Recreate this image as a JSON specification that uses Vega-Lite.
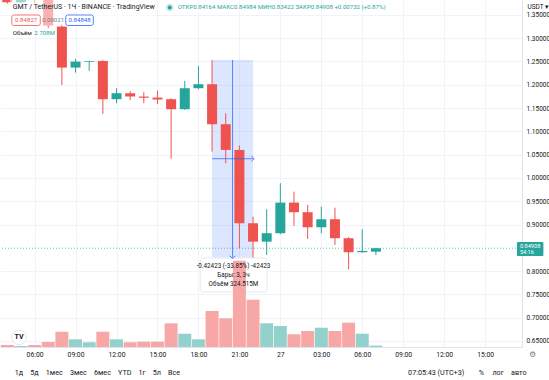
{
  "$schema": "https://vega.github.io/schema/vega-lite/v6.json",
  "width": 522,
  "height": 347,
  "autosize": "none",
  "padding": {"left": 0, "top": 0, "right": 27, "bottom": 33},
  "background": "#ffffff",
  "config": {"view": {"stroke": null}, "font": "Roboto"},
  "datasets": {
    "bars": [
      {"t": "2022-05-26T04:00:00Z", "o": 1.430, "h": 1.450, "l": 1.374, "c": 1.377, "v": 4.0},
      {"t": "2022-05-26T05:00:00Z", "o": 1.377, "h": 1.420, "l": 1.375, "c": 1.400, "v": 2.0},
      {"t": "2022-05-26T06:00:00Z", "o": 1.400, "h": 1.410, "l": 1.375, "c": 1.390, "v": 4.0},
      {"t": "2022-05-26T07:00:00Z", "o": 1.390, "h": 1.400, "l": 1.322, "c": 1.327, "v": 10.0},
      {"t": "2022-05-26T08:00:00Z", "o": 1.3249, "h": 1.3300, "l": 1.1997, "c": 1.2369, "v": 30.6},
      {"t": "2022-05-26T09:00:00Z", "o": 1.2369, "h": 1.2555, "l": 1.2261, "c": 1.2498, "v": 15.4},
      {"t": "2022-05-26T10:00:00Z", "o": 1.2495, "h": 1.2515, "l": 1.2298, "c": 1.2510, "v": 9.4},
      {"t": "2022-05-26T11:00:00Z", "o": 1.2512, "h": 1.2525, "l": 1.1374, "c": 1.1690, "v": 30.6},
      {"t": "2022-05-26T12:00:00Z", "o": 1.1690, "h": 1.1926, "l": 1.1604, "c": 1.1819, "v": 15.4},
      {"t": "2022-05-26T13:00:00Z", "o": 1.1819, "h": 1.1862, "l": 1.1669, "c": 1.1747, "v": 9.4},
      {"t": "2022-05-26T14:00:00Z", "o": 1.1747, "h": 1.1840, "l": 1.1604, "c": 1.1722, "v": 10.6},
      {"t": "2022-05-26T15:00:00Z", "o": 1.1725, "h": 1.1875, "l": 1.1583, "c": 1.1683, "v": 10.6},
      {"t": "2022-05-26T16:00:00Z", "o": 1.1690, "h": 1.1710, "l": 1.0415, "c": 1.1475, "v": 47.4},
      {"t": "2022-05-26T17:00:00Z", "o": 1.1475, "h": 1.2083, "l": 1.1460, "c": 1.1926, "v": 26.6},
      {"t": "2022-05-26T18:00:00Z", "o": 1.1926, "h": 1.2405, "l": 1.1900, "c": 1.2012, "v": 15.4},
      {"t": "2022-05-26T19:00:00Z", "o": 1.2012, "h": 1.2533, "l": 1.0565, "c": 1.1153, "v": 72.0},
      {"t": "2022-05-26T20:00:00Z", "o": 1.1153, "h": 1.1390, "l": 1.0316, "c": 1.0601, "v": 57.4},
      {"t": "2022-05-26T21:00:00Z", "o": 1.0601, "h": 1.0694, "l": 0.8490, "c": 0.9027, "v": 172.5},
      {"t": "2022-05-26T22:00:00Z", "o": 0.9027, "h": 0.9169, "l": 0.8291, "c": 0.8632, "v": 94.6},
      {"t": "2022-05-26T23:00:00Z", "o": 0.8632, "h": 0.9328, "l": 0.8347, "c": 0.8813, "v": 47.4},
      {"t": "2022-05-27T00:00:00Z", "o": 0.8813, "h": 0.9886, "l": 0.8790, "c": 0.9470, "v": 42.0},
      {"t": "2022-05-27T01:00:00Z", "o": 0.9470, "h": 0.9706, "l": 0.8970, "c": 0.9264, "v": 25.4},
      {"t": "2022-05-27T02:00:00Z", "o": 0.9264, "h": 0.9420, "l": 0.8690, "c": 0.8941, "v": 32.0},
      {"t": "2022-05-27T03:00:00Z", "o": 0.8941, "h": 0.9384, "l": 0.8813, "c": 0.9113, "v": 38.6},
      {"t": "2022-05-27T04:00:00Z", "o": 0.9113, "h": 0.9362, "l": 0.8561, "c": 0.8705, "v": 32.0},
      {"t": "2022-05-27T05:00:00Z", "o": 0.8705, "h": 0.8730, "l": 0.8040, "c": 0.8405, "v": 48.6},
      {"t": "2022-05-27T06:00:00Z", "o": 0.8405, "h": 0.8898, "l": 0.8395, "c": 0.8433, "v": 26.6},
      {"t": "2022-05-27T07:00:00Z", "o": 0.84164, "h": 0.84984, "l": 0.83422, "c": 0.84908, "v": 2.708}
    ]
  },
  "resolve": {"scale": {"y": "independent"}},
  "layer": [
    {
      "data": {"values": [{}]},
      "mark": {"type": "rule", "stroke": "#26a69a", "strokeDash": [1, 2], "strokeWidth": 1, "opacity": 0.7},
      "encoding": {
        "y": {"datum": 0.84908, "type": "quantitative", "scale": {"domain": [0.637, 1.382], "nice": false, "zero": false}, "axis": null}
      }
    },
    {
      "data": {"values": [{}]},
      "mark": {"type": "rect", "fill": "#2962ff", "opacity": 0.16},
      "encoding": {
        "x": {"datum": 1653591600000, "type": "temporal"},
        "x2": {"datum": 1653602400000},
        "y": {"datum": 1.2533, "type": "quantitative", "scale": {"domain": [0.637, 1.382], "nice": false, "zero": false}, "axis": null},
        "y2": {"datum": 0.8291}
      }
    },
    {
      "data": {"values": [{}]},
      "mark": {"type": "rect", "fill": "#ffffff", "stroke": "#e0e3eb", "strokeWidth": 0.8, "cornerRadius": 3},
      "encoding": {
        "x": {"datum": 1653588480000, "type": "temporal"},
        "x2": {"datum": 1653606060000},
        "y": {"datum": 0.8281, "type": "quantitative", "scale": {"domain": [0.637, 1.382], "nice": false, "zero": false}, "axis": null},
        "y2": {"datum": 0.7551}
      }
    },
    {
      "data": {"name": "bars"},
      "mark": {"type": "bar", "size": 13},
      "encoding": {
        "x": {
          "field": "t", "type": "temporal",
          "scale": {"type": "utc", "nice": false, "domain": [1653537000000, 1653672000000]},
          "axis": {
            "orient": "bottom",
            "values": [1653544800000, 1653555600000, 1653566400000, 1653577200000, 1653588000000, 1653598800000, 1653609600000, 1653620400000, 1653631200000, 1653642000000, 1653652800000, 1653663600000],
            "labelExpr": "utchours(datum.value) == 0 ? utcFormat(datum.value, '%d') : utcFormat(datum.value, '%H:%M')",
            "grid": true, "gridColor": "#f0f3fa", "ticks": false,
            "domain": true, "domainColor": "#e0e3eb",
            "labelFontSize": 6.8, "labelColor": "#131722", "labelPadding": 4,
            "labelOverlap": false, "labelFlush": false, "title": null
          }
        },
        "y": {"field": "v", "type": "quantitative", "scale": {"domain": [0, 694], "nice": false}, "axis": null},
        "color": {"condition": {"test": "datum.c >= datum.o", "value": "#93d2cc"}, "value": "#f7a8a6"}
      }
    },
    {
      "data": {"name": "bars"},
      "mark": {"type": "rule", "strokeWidth": 1, "clip": true},
      "encoding": {
        "x": {"field": "t", "type": "temporal"},
        "y": {"field": "l", "type": "quantitative", "scale": {"domain": [0.637, 1.382], "nice": false, "zero": false},
          "axis": {
            "orient": "right",
            "values": [0.65, 0.7, 0.75, 0.8, 0.9, 0.95, 1.0, 1.05, 1.1, 1.15, 1.2, 1.25, 1.3, 1.35],
            "format": ".5f", "grid": true, "gridColor": "#f0f3fa", "ticks": false,
            "domain": true, "domainColor": "#e0e3eb", "labelFontSize": 6.5,
            "labelColor": "#131722", "labelPadding": 4, "labelOverlap": false,
            "title": "USDT ▾", "titleAngle": 0, "titleX": 5, "titleY": 6,
            "titleAlign": "left", "titleBaseline": "middle", "titleFontSize": 6.5,
            "titleFontWeight": "normal", "titleColor": "#131722"
          }},
        "y2": {"field": "h"},
        "color": {"condition": {"test": "datum.c >= datum.o", "value": "#26a69a"}, "value": "#ef5350"}
      }
    },
    {
      "data": {"name": "bars"},
      "mark": {"type": "bar", "size": 10, "clip": true},
      "encoding": {
        "x": {"field": "t", "type": "temporal"},
        "y": {"field": "o", "type": "quantitative", "scale": {"domain": [0.637, 1.382], "nice": false, "zero": false}, "axis": null},
        "y2": {"field": "c"},
        "color": {"condition": {"test": "datum.c >= datum.o", "value": "#26a69a"}, "value": "#ef5350"}
      }
    },
    {
      "data": {"values": [{}]},
      "mark": {"type": "rect", "fill": "#ffffff", "opacity": 0.55},
      "encoding": {
        "x": {"datum": 1653538320000, "type": "temporal"},
        "x2": {"datum": 1653575760000},
        "y": {"datum": 1.382, "type": "quantitative", "scale": {"domain": [0.637, 1.382], "nice": false, "zero": false}, "axis": null},
        "y2": {"datum": 1.3262}
      }
    },
    {
      "data": {"values": [{}]},
      "mark": {"type": "rule", "stroke": "#2962ff", "strokeWidth": 1, "opacity": 0.75},
      "encoding": {
        "x": {"datum": 1653597000000, "type": "temporal"},
        "y": {"datum": 1.2533, "type": "quantitative", "scale": {"domain": [0.637, 1.382], "nice": false, "zero": false}, "axis": null},
        "y2": {"datum": 0.8291}
      }
    },
    {
      "data": {"values": [{}]},
      "mark": {"type": "rule", "stroke": "#2962ff", "strokeWidth": 1, "opacity": 0.75},
      "encoding": {
        "x": {"datum": 1653591600000, "type": "temporal"},
        "x2": {"datum": 1653602400000},
        "y": {"datum": 1.0412, "type": "quantitative", "scale": {"domain": [0.637, 1.382], "nice": false, "zero": false}, "axis": null}
      }
    },
    {
      "data": {"values": [{}]},
      "mark": {"type": "point", "shape": "M-1,-0.6L0,0.4L1,-0.6", "filled": false, "stroke": "#2962ff", "strokeWidth": 1, "size": 30, "opacity": 0.8},
      "encoding": {
        "x": {"datum": 1653597000000, "type": "temporal"},
        "y": {"datum": 0.8291, "type": "quantitative", "scale": {"domain": [0.637, 1.382], "nice": false, "zero": false}, "axis": null}
      }
    },
    {
      "data": {"values": [{}]},
      "mark": {"type": "point", "shape": "M-0.6,-1L0.4,0L-0.6,1", "filled": false, "stroke": "#2962ff", "strokeWidth": 1, "size": 30, "opacity": 0.8},
      "encoding": {
        "x": {"datum": 1653602400000, "type": "temporal"},
        "y": {"datum": 1.0412, "type": "quantitative", "scale": {"domain": [0.637, 1.382], "nice": false, "zero": false}, "axis": null}
      }
    },
    {
      "data": {"values": [{}]},
      "mark": {"type": "text", "text": "-0.42423 (-33.85%) -42423", "fontSize": 6.3, "color": "#131722", "align": "center", "baseline": "middle"},
      "encoding": {
        "x": {"datum": 1653597240000, "type": "temporal"},
        "y": {"datum": 0.8109, "type": "quantitative", "scale": {"domain": [0.637, 1.382], "nice": false, "zero": false}, "axis": null}
      }
    },
    {
      "data": {"values": [{}]},
      "mark": {"type": "text", "text": "Бары: 3, 3ч", "fontSize": 6.3, "color": "#131722", "align": "center", "baseline": "middle"},
      "encoding": {
        "x": {"datum": 1653597240000, "type": "temporal"},
        "y": {"datum": 0.7916, "type": "quantitative", "scale": {"domain": [0.637, 1.382], "nice": false, "zero": false}, "axis": null}
      }
    },
    {
      "data": {"values": [{}]},
      "mark": {"type": "text", "text": "Объём 324.515M", "fontSize": 6.3, "color": "#131722", "align": "center", "baseline": "middle"},
      "encoding": {
        "x": {"datum": 1653597240000, "type": "temporal"},
        "y": {"datum": 0.7722, "type": "quantitative", "scale": {"domain": [0.637, 1.382], "nice": false, "zero": false}, "axis": null}
      }
    },
    {
      "data": {"values": [{}]},
      "mark": {"type": "text", "text": "GMT / TetherUS · 1Ч · BINANCE · TradingView", "fontSize": 7, "color": "#131722", "align": "left", "baseline": "middle"},
      "encoding": {
        "x": {"datum": 1653539040000, "type": "temporal"},
        "y": {"datum": 1.3659, "type": "quantitative", "scale": {"domain": [0.637, 1.382], "nice": false, "zero": false}, "axis": null}
      }
    },
    {
      "data": {"values": [{}]},
      "mark": {"type": "point", "shape": "circle", "filled": true, "color": "#26a69a", "size": 55, "opacity": 0.25},
      "encoding": {
        "x": {"datum": 1653580440000, "type": "temporal"},
        "y": {"datum": 1.3659, "type": "quantitative", "scale": {"domain": [0.637, 1.382], "nice": false, "zero": false}, "axis": null}
      }
    },
    {
      "data": {"values": [{}]},
      "mark": {"type": "point", "shape": "circle", "filled": true, "color": "#26a69a", "size": 16, "opacity": 1},
      "encoding": {
        "x": {"datum": 1653580440000, "type": "temporal"},
        "y": {"datum": 1.3659, "type": "quantitative", "scale": {"domain": [0.637, 1.382], "nice": false, "zero": false}, "axis": null}
      }
    },
    {
      "data": {"values": [{}]},
      "mark": {"type": "text", "text": "ОТКР0.84164  МАКС0.84984  МИН0.83422  ЗАКР0.84908  +0.00732 (+0.87%)", "fontSize": 6.1, "color": "#26a69a", "align": "left", "baseline": "middle"},
      "encoding": {
        "x": {"datum": 1653582540000, "type": "temporal"},
        "y": {"datum": 1.3659, "type": "quantitative", "scale": {"domain": [0.637, 1.382], "nice": false, "zero": false}, "axis": null}
      }
    },
    {
      "data": {"values": [{}]},
      "mark": {"type": "rect", "fill": "#ffffff", "stroke": "#ef5350", "strokeWidth": 0.8, "cornerRadius": 2},
      "encoding": {
        "x": {"datum": 1653538800000, "type": "temporal"},
        "x2": {"datum": 1653546300000},
        "y": {"datum": 1.3498, "type": "quantitative", "scale": {"domain": [0.637, 1.382], "nice": false, "zero": false}, "axis": null},
        "y2": {"datum": 1.3273}
      }
    },
    {
      "data": {"values": [{}]},
      "mark": {"type": "rect", "fill": "#ffffff", "stroke": "#2962ff", "strokeWidth": 0.8, "cornerRadius": 2},
      "encoding": {
        "x": {"datum": 1653553020000, "type": "temporal"},
        "x2": {"datum": 1653560280000},
        "y": {"datum": 1.3498, "type": "quantitative", "scale": {"domain": [0.637, 1.382], "nice": false, "zero": false}, "axis": null},
        "y2": {"datum": 1.3273}
      }
    },
    {
      "data": {"values": [{}]},
      "mark": {"type": "text", "text": "0.84827", "fontSize": 6.1, "color": "#ef5350", "align": "center", "baseline": "middle"},
      "encoding": {
        "x": {"datum": 1653542580000, "type": "temporal"},
        "y": {"datum": 1.3391, "type": "quantitative", "scale": {"domain": [0.637, 1.382], "nice": false, "zero": false}, "axis": null}
      }
    },
    {
      "data": {"values": [{}]},
      "mark": {"type": "text", "text": "0.00021", "fontSize": 6.1, "color": "#787b86", "align": "center", "baseline": "middle"},
      "encoding": {
        "x": {"datum": 1653549660000, "type": "temporal"},
        "y": {"datum": 1.3391, "type": "quantitative", "scale": {"domain": [0.637, 1.382], "nice": false, "zero": false}, "axis": null}
      }
    },
    {
      "data": {"values": [{}]},
      "mark": {"type": "text", "text": "0.84848", "fontSize": 6.1, "color": "#2962ff", "align": "center", "baseline": "middle"},
      "encoding": {
        "x": {"datum": 1653556680000, "type": "temporal"},
        "y": {"datum": 1.3391, "type": "quantitative", "scale": {"domain": [0.637, 1.382], "nice": false, "zero": false}, "axis": null}
      }
    },
    {
      "data": {"values": [{}]},
      "mark": {"type": "text", "text": "Объём", "fontSize": 6.1, "color": "#131722", "align": "left", "baseline": "middle"},
      "encoding": {
        "x": {"datum": 1653539040000, "type": "temporal"},
        "y": {"datum": 1.3111, "type": "quantitative", "scale": {"domain": [0.637, 1.382], "nice": false, "zero": false}, "axis": null}
      }
    },
    {
      "data": {"values": [{}]},
      "mark": {"type": "text", "text": "2.708M", "fontSize": 6.1, "color": "#26a69a", "align": "left", "baseline": "middle"},
      "encoding": {
        "x": {"datum": 1653544740000, "type": "temporal"},
        "y": {"datum": 1.3111, "type": "quantitative", "scale": {"domain": [0.637, 1.382], "nice": false, "zero": false}, "axis": null}
      }
    },
    {
      "data": {"values": [{}]},
      "mark": {"type": "point", "shape": "circle", "filled": true, "fill": "#ffffff", "stroke": "#d1d4dc", "strokeWidth": 0.8, "size": 210},
      "encoding": {
        "x": {"datum": 1653540720000, "type": "temporal"},
        "y": {"datum": 0.6574, "type": "quantitative", "scale": {"domain": [0.637, 1.382], "nice": false, "zero": false}, "axis": null}
      }
    },
    {
      "data": {"values": [{}]},
      "mark": {"type": "text", "text": "TV", "fontSize": 7, "fontWeight": "bold", "color": "#131722", "align": "center", "baseline": "middle"},
      "encoding": {
        "x": {"datum": 1653540720000, "type": "temporal"},
        "y": {"datum": 0.6574, "type": "quantitative", "scale": {"domain": [0.637, 1.382], "nice": false, "zero": false}, "axis": null}
      }
    },
    {
      "data": {"values": [{}]},
      "mark": {"type": "rect", "fill": "#26a69a", "cornerRadius": 1},
      "encoding": {
        "x": {"datum": 1653672000000, "type": "temporal"},
        "x2": {"datum": 1653678960000},
        "y": {"datum": 0.8624, "type": "quantitative", "scale": {"domain": [0.637, 1.382], "nice": false, "zero": false}, "axis": null},
        "y2": {"datum": 0.8324}
      }
    },
    {
      "data": {"values": [{}]},
      "mark": {"type": "text", "text": "0.84908", "fontSize": 5.6, "color": "#ffffff", "align": "left", "baseline": "middle"},
      "encoding": {
        "x": {"datum": 1653672780000, "type": "temporal"},
        "y": {"datum": 0.8543, "type": "quantitative", "scale": {"domain": [0.637, 1.382], "nice": false, "zero": false}, "axis": null}
      }
    },
    {
      "data": {"values": [{}]},
      "mark": {"type": "text", "text": "54:16", "fontSize": 5.6, "color": "#ffffff", "align": "left", "baseline": "middle"},
      "encoding": {
        "x": {"datum": 1653672780000, "type": "temporal"},
        "y": {"datum": 0.8403, "type": "quantitative", "scale": {"domain": [0.637, 1.382], "nice": false, "zero": false}, "axis": null}
      }
    },
    {
      "data": {"values": [{}]},
      "mark": {"type": "text", "text": "⚙", "fontSize": 8, "color": "#787b86", "align": "center", "baseline": "middle"},
      "encoding": {
        "x": {"datum": 1653676140000, "type": "temporal"},
        "y": {"datum": 0.6198, "type": "quantitative", "scale": {"domain": [0.637, 1.382], "nice": false, "zero": false}, "axis": null}
      }
    },
    {
      "data": {"values": [{}]},
      "mark": {"type": "text", "text": "1д\u00a0\u00a0\u00a0\u00a05д\u00a0\u00a0\u00a0\u00a01мес\u00a0\u00a0\u00a0\u00a03мес\u00a0\u00a0\u00a0\u00a06мес\u00a0\u00a0\u00a0\u00a0YTD\u00a0\u00a0\u00a0\u00a01г\u00a0\u00a0\u00a0\u00a05л\u00a0\u00a0\u00a0\u00a0Все", "fontSize": 7.2, "color": "#131722", "align": "left", "baseline": "middle"},
      "encoding": {
        "x": {"datum": 1653539586000, "type": "temporal"},
        "y": {"datum": 0.5812, "type": "quantitative", "scale": {"domain": [0.637, 1.382], "nice": false, "zero": false}, "axis": null}
      }
    },
    {
      "data": {"values": [{}]},
      "mark": {"type": "text", "text": "07:05:43 (UTC+3)", "fontSize": 7.2, "color": "#131722", "align": "left", "baseline": "middle"},
      "encoding": {
        "x": {"datum": 1653643290000, "type": "temporal"},
        "y": {"datum": 0.5812, "type": "quantitative", "scale": {"domain": [0.637, 1.382], "nice": false, "zero": false}, "axis": null}
      }
    },
    {
      "data": {"values": [{}]},
      "mark": {"type": "text", "text": "%", "fontSize": 7.2, "color": "#131722", "align": "left", "baseline": "middle"},
      "encoding": {
        "x": {"datum": 1653661914000, "type": "temporal"},
        "y": {"datum": 0.5812, "type": "quantitative", "scale": {"domain": [0.637, 1.382], "nice": false, "zero": false}, "axis": null}
      }
    },
    {
      "data": {"values": [{}]},
      "mark": {"type": "text", "text": "лог", "fontSize": 7.2, "color": "#131722", "align": "left", "baseline": "middle"},
      "encoding": {
        "x": {"datum": 1653665532000, "type": "temporal"},
        "y": {"datum": 0.5812, "type": "quantitative", "scale": {"domain": [0.637, 1.382], "nice": false, "zero": false}, "axis": null}
      }
    },
    {
      "data": {"values": [{}]},
      "mark": {"type": "text", "text": "авто", "fontSize": 7.2, "color": "#131722", "align": "left", "baseline": "middle"},
      "encoding": {
        "x": {"datum": 1653670446000, "type": "temporal"},
        "y": {"datum": 0.5812, "type": "quantitative", "scale": {"domain": [0.637, 1.382], "nice": false, "zero": false}, "axis": null}
      }
    }
  ]
}
